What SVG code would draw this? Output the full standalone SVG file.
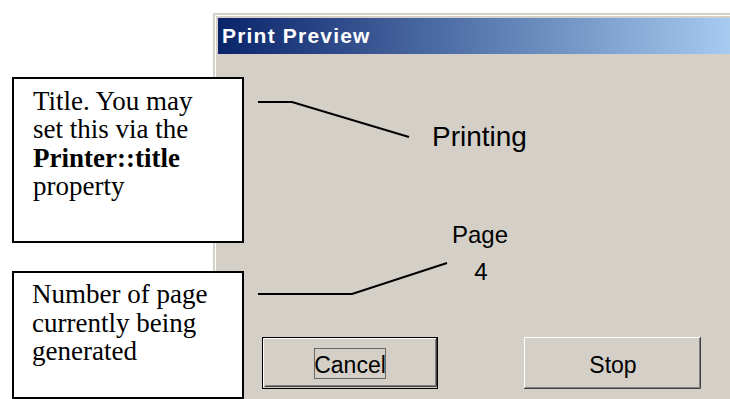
<svg xmlns="http://www.w3.org/2000/svg" width="730" height="399" viewBox="0 0 730 399">
<defs>
<linearGradient id="tb" x1="0" y1="0" x2="1" y2="0">
<stop offset="0" stop-color="#0a246a"/>
<stop offset="1" stop-color="#a6caf0"/>
</linearGradient>
<style>
.note{fill:#fff;stroke:#000;stroke-width:2}
.nt{font-family:"Liberation Serif","Times New Roman",serif;font-size:27px;fill:#000}
.ui{font-family:"Liberation Sans",Arial,sans-serif;fill:#000}
.conn{fill:none;stroke:#000;stroke-width:2}
</style>
</defs>
<rect width="730" height="399" fill="#fff"/>
<g id="window">
<rect x="213" y="13" width="517" height="386" fill="#d4d0c8"/>
<path d="M214.5 399V14.5H730" fill="none" stroke="#d4d0c8" stroke-width="1"/>
<path d="M215.5 399V15.5H730" fill="none" stroke="#fff" stroke-width="1"/>
<rect x="218" y="18" width="512" height="36" fill="url(#tb)"/>
<text x="222" y="43" font-family="Tahoma,'Liberation Sans',Arial,sans-serif" font-weight="bold" font-size="21" letter-spacing="1.2" fill="#fff">Print Preview</text>
<text class="ui" x="432" y="146" font-size="28">Printing</text>
<text class="ui" x="480" y="243" font-size="24" text-anchor="middle">Page</text>
<text class="ui" x="481" y="280" font-size="24" text-anchor="middle">4</text>
</g>
<g id="cancel">
<rect x="262.5" y="337.5" width="175" height="51" fill="#d4d0c8" stroke="#000"/>
<path d="M263.5 387V338.5H436" fill="none" stroke="#fff"/>
<path d="M264.5 386.5H436.5V338" fill="none" stroke="#404040"/>
<path d="M265.5 385.5H435.5V339" fill="none" stroke="#808080"/>
<rect x="314.5" y="348.5" width="71" height="30" fill="none" stroke="#000" stroke-dasharray="1 1"/>
<text class="ui" x="350" y="373" font-size="23" text-anchor="middle">Cancel</text>
</g>
<g id="stop">
<rect x="524" y="337" width="177" height="52" fill="#d4d0c8"/>
<path d="M524.5 388V337.5H700" fill="none" stroke="#fff"/>
<path d="M524 388.5H700.5V337" fill="none" stroke="#404040"/>
<path d="M525 387.5H699.5V338" fill="none" stroke="#808080"/>
<text class="ui" x="613" y="373" font-size="23" text-anchor="middle">Stop</text>
</g>
<g id="title-note">
<rect class="note" x="13" y="78" width="230" height="164"/>
<text class="nt" x="33" y="109.5">Title. You may</text>
<text class="nt" x="33" y="138">set this via the</text>
<text class="nt" x="33" y="166.5" font-weight="bold">Printer::title</text>
<text class="nt" x="33" y="195">property</text>
</g>
<g id="page-note">
<rect class="note" x="13" y="272" width="230" height="126"/>
<text class="nt" x="32" y="303">Number of page</text>
<text class="nt" x="32" y="332">currently being</text>
<text class="nt" x="32" y="360">generated</text>
</g>
<g id="connectors">
<path class="conn" d="M258 102H292L409 137"/>
<path class="conn" d="M258 294H352L447 263"/>
</g>
</svg>
